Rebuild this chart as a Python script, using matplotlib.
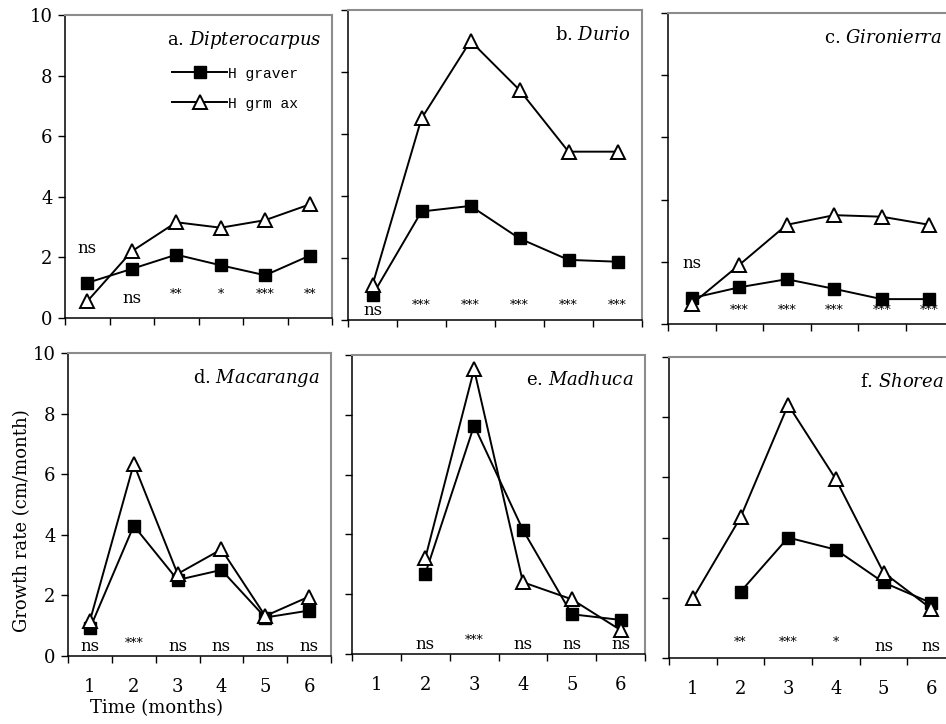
import matplotlib.pyplot as plt
import numpy as np

plt.rcParams["font.family"] = "DejaVu Serif"
plt.rcParams["mathtext.fontset"] = "custom"
plt.rcParams["mathtext.rm"] = "DejaVu Serif"
plt.rcParams["mathtext.it"] = "DejaVu Serif:italic"

months = [1, 2, 3, 4, 5, 6]
nan = np.nan

# Hgraver (squares) and Hgrmax (triangles) per genus
genera = ["Dipterocarpus", "Durio", "Gironierra", "Macaranga", "Madhuca", "Shorea"]
letters = ["a", "b", "c", "d", "e", "f"]
hgraver = [
    [1.16, 1.62, 2.09, 1.74, 1.41, 2.06],
    [0.80, 3.50, 3.68, 2.63, 1.94, 1.88],
    [0.83, 1.18, 1.44, 1.13, 0.80, 0.80],
    [0.91, 4.30, 2.51, 2.84, 1.27, 1.50],
    [nan, 2.68, 7.64, 4.15, 1.33, 1.14],
    [nan, 2.20, 4.00, 3.60, 2.51, 1.83],
]
hgrmax = [
    [0.55, 2.20, 3.16, 2.98, 3.23, 3.75],
    [1.13, 6.50, 9.00, 7.42, 5.43, 5.43],
    [0.64, 1.90, 3.19, 3.50, 3.45, 3.19],
    [1.16, 6.34, 2.71, 3.52, 1.32, 1.96],
    [nan, 3.20, 9.52, 2.40, 1.83, 0.80],
    [1.98, 4.67, 8.41, 5.94, 2.84, 1.64],
]
signif = [
    ["ns", "ns", "**", "*", "***", "**"],
    ["ns", "***", "***", "***", "***", "***"],
    ["ns", "***", "***", "***", "***", "***"],
    ["ns", "***", "ns", "ns", "ns", "ns"],
    ["", "ns", "***", "ns", "ns", "ns"],
    ["", "**", "***", "*", "ns", "ns"],
]

# layout (pixels: left, right, top, bottom) and label heights
W, H = 946, 724
boxes = [
    (65, 332, 15, 318), (348, 642, 10, 320), (668, 953, 13, 324),
    (68, 331, 353, 656), (352, 645, 355, 654), (669, 955, 357, 658),
]
sig_y = [
    [2.3, 0.65, 0.65, 0.65, 0.65, 0.65],
    [0.3, 0.35, 0.35, 0.35, 0.35, 0.35],
    [1.95, 0.3, 0.3, 0.3, 0.3, 0.3],
    [0.3] * 6,
    [0.33] * 6,
    [0.38] * 6,
]

fig = plt.figure(figsize=(W / 100, H / 100), dpi=100)

for i in range(6):
    l, r, t, b = boxes[i]
    ax = fig.add_axes([l / W, 1 - b / H, (r - l) / W, (b - t) / H])
    ax.plot(months, hgraver[i], "-s", color="black", lw=1.4, ms=8.5,
            mfc="black", mec="black", label="H graver", zorder=3)
    ax.plot(months, hgrmax[i], "-^", color="black", lw=1.4, ms=10,
            mfc="white", mec="black", mew=1.4, label="H grm ax", zorder=4)
    for m, s, yy in zip(months, signif[i], sig_y[i]):
        if s == "ns":
            ax.text(m, yy, s, ha="center", va="center", fontsize=12)
        elif s:
            ax.text(m, yy + 0.12, s, ha="center", va="center", fontsize=9)

    ax.set_xlim(0.5, 6.5)
    ax.set_ylim(0, 10)
    ax.set_yticks(np.arange(0, 11, 2))
    ax.set_xticks(months)
    ax.set_xticks(np.arange(0.5, 7, 1), minor=True)
    ax.tick_params(axis="x", which="major", length=0, pad=16, labelsize=13)
    ax.tick_params(axis="x", which="minor", length=5, width=1, direction="out")
    ax.tick_params(axis="y", length=5, width=1, direction="out", labelsize=13, pad=4)
    if i < 3:
        ax.set_xticklabels([])
    if i not in (0, 3):
        ax.set_yticklabels([])
    for side in ["left", "bottom"]:
        ax.spines[side].set_color("black")
        ax.spines[side].set_linewidth(1.1)
    for side in ["top", "right"]:
        ax.spines[side].set_color("#8c8c8c")
        ax.spines[side].set_linewidth(1.5)

    ax.annotate(letters[i] + r". $\it{" + genera[i] + "}$", xy=(1, 1),
                xycoords="axes fraction", xytext=(-8, -18),
                textcoords="offset points", ha="right", va="center", fontsize=13)

    if i == 0:
        ax.legend(loc="upper left", bbox_to_anchor=(0.40, 0.83), frameon=False,
                  numpoints=1, handlelength=3.8, handletextpad=0.05,
                  borderpad=0, borderaxespad=0, labelspacing=1.1,
                  prop={"family": "Liberation Mono", "size": 10.5})

fig.text(22 / W, 1 - 521 / H, "Growth rate (cm/month)", rotation=90,
         ha="center", va="center", fontsize=13)
fig.text(157 / W, 1 - 708 / H, "Time (months)", ha="center", va="center",
         fontsize=13)

fig.savefig("out.png", dpi=100)
